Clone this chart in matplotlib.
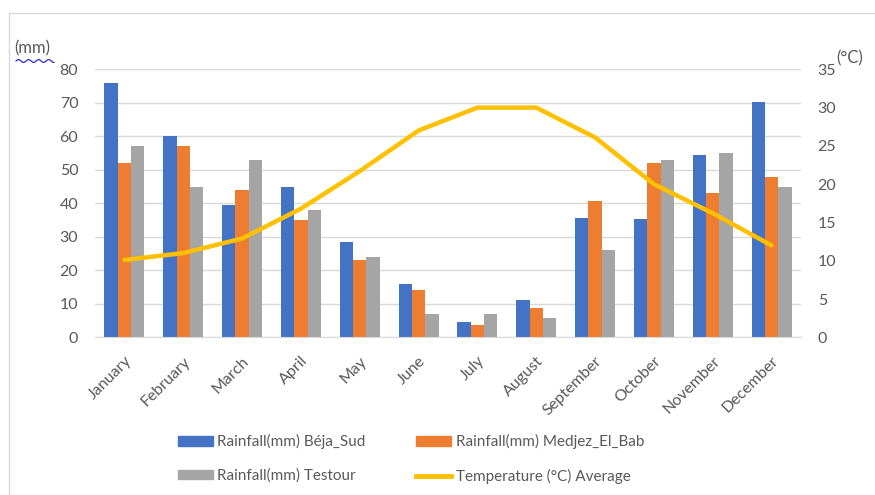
import numpy as np
import matplotlib
matplotlib.use("Agg")
import matplotlib.pyplot as plt
from matplotlib.patches import Patch
from matplotlib.lines import Line2D

plt.rcParams['font.family'] = ['Lato', 'DejaVu Sans']

months = ["January", "February", "March", "April", "May", "June",
          "July", "August", "September", "October", "November", "December"]
rain_beja = [76, 60, 39.5, 45, 28.5, 16, 4.5, 11.2, 35.5, 35.2, 54.3, 70.2]
rain_medjez = [52, 57, 44, 35, 23, 14, 3.8, 8.6, 40.8, 52, 43, 47.8]
rain_testour = [57, 45, 53, 38, 24, 7, 7, 5.8, 26, 52.8, 55, 45]
temp_avg = [10.1, 11, 12.9, 16.8, 21.7, 27, 30, 30, 26.1, 20, 16.2, 12]

series_names = ["Rainfall(mm) Béja_Sud", "Rainfall(mm) Medjez_El_Bab",
                "Rainfall(mm) Testour", "Temperature (°C) Average"]
mm_ticks = [0, 10, 20, 30, 40, 50, 60, 70, 80]
c_ticks = [0, 5, 10, 15, 20, 25, 30, 35]

blue, orange, gray, gold = "#4472C4", "#ED7D31", "#A5A5A5", "#FFC000"
txt = "#595959"
fs = 11.5

fig = plt.figure(figsize=(8.75, 4.95), dpi=100)
ax = fig.add_axes([95 / 875, 1 - 337.3 / 495, 706 / 875, 268 / 495])
ax2 = ax.twinx()

x = np.arange(len(months))
w = 0.227
ax.bar(x - w, rain_beja, w, color=blue, zorder=2)
ax.bar(x, rain_medjez, w, color=orange, zorder=2)
ax.bar(x + w, rain_testour, w, color=gray, zorder=2)
ax2.plot(x, temp_avg, color=gold, lw=3.2, solid_capstyle="round",
         solid_joinstyle="round", zorder=3)

ax.set_xlim(-0.5, len(months) - 0.5)
ax.set_ylim(0, 80)
ax2.set_ylim(0, 35)
ax.set_yticks(mm_ticks)
ax2.set_yticks(c_ticks)
ax.yaxis.grid(True, color="#D9D9D9", lw=1, zorder=0)
ax.set_axisbelow(True)

for a in (ax, ax2):
    for s in a.spines.values():
        s.set_visible(False)
    a.tick_params(length=0, labelsize=fs, labelcolor=txt)
ax.spines["bottom"].set_visible(True)
ax.spines["bottom"].set_color("#D9D9D9")
ax.tick_params(axis="y", pad=12)
ax2.tick_params(axis="y", pad=12)

ax.set_xticks(x)
ax.set_xticklabels(months, rotation=45, ha="right", rotation_mode="anchor",
                   fontsize=fs, color=txt)
ax.tick_params(axis="x", pad=12)

# unit labels
fig.text(14 / 875, 1 - 48 / 495, "(mm)", fontsize=12, color=txt,
         ha="left", va="center")
wx = np.linspace(16 / 875, 54 / 875, 60)
wy = 1 - 61 / 495 + 1.4 / 495 * np.sin((wx - wx[0]) * 875 / 1.6)
fig.add_artist(Line2D(wx, wy, color="#2b2bd6", lw=0.9))
fig.text(836 / 875, 1 - 58 / 495, "(°C)", fontsize=12, color=txt,
         ha="left", va="center")

# chart frame (left and top edges)
fig.add_artist(Line2D([8.5 / 875, 8.5 / 875], [0, 1 - 13 / 495],
                      color="#D9D9D9", lw=1))
fig.add_artist(Line2D([8.5 / 875, 1], [1 - 13 / 495, 1 - 13 / 495],
                      color="#D9D9D9", lw=1))

handles = [Patch(color=blue), Patch(color=orange), Patch(color=gray),
           Line2D([], [], color=gold, lw=3.5)]
leg = fig.legend([handles[0], handles[2], handles[1], handles[3]],
                 [series_names[0], series_names[2], series_names[1], series_names[3]],
                 ncol=2, loc="center", bbox_to_anchor=(411 / 875, 1 - 459 / 495),
                 frameon=False, fontsize=11, handlelength=2.3, handleheight=0.55,
                 columnspacing=3.3, labelspacing=1.25, handletextpad=0.3)
for t in leg.get_texts():
    t.set_color(txt)

fig.savefig("out.png", dpi=100)
